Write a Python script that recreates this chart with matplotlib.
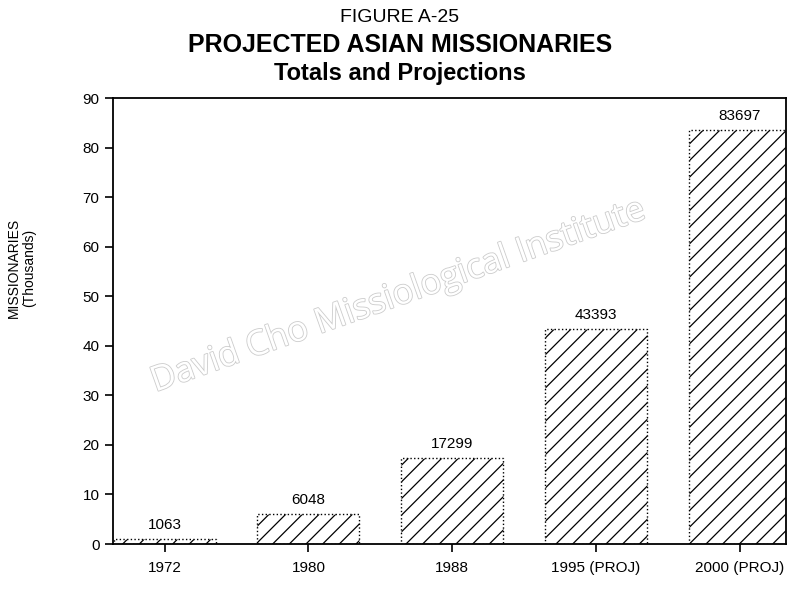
import matplotlib.pyplot as plt
import matplotlib.patheffects as pe

# values (thousands of missionaries)
years = ['1972', '1980', '1988', '1995 (PROJ)', '2000 (PROJ)']
counts = [1063, 6048, 17299, 43393, 83697]
thousands = [c / 1000 for c in counts]
yticks = [0, 10, 20, 30, 40, 50, 60, 70, 80, 90]

plt.rcParams['font.family'] = ['Liberation Sans', 'DejaVu Sans']
plt.rcParams['hatch.linewidth'] = 0.9

fig = plt.figure(figsize=(8, 5.89), dpi=100)
ax = fig.add_axes([0.141, 0.0764, 0.8415, 0.7564])

x = range(len(years))
bars = ax.bar(x, thousands, width=0.71, color='white', edgecolor='black',
              hatch='//', linewidth=1.0, linestyle=':')

for i, b in enumerate(bars):
    ax.annotate(str(counts[i]), (b.get_x() + b.get_width() / 2, b.get_height()),
                xytext=(0, 5), textcoords='offset points', ha='center', va='bottom',
                fontsize=11)

ax.set_xlim(-0.36, 4.32)
ax.set_ylim(0, 90)
ax.set_yticks(yticks)
ax.set_xticks(list(x))
ax.set_xticklabels(years)
ax.tick_params(axis='both', labelsize=11, direction='out', length=6, width=1.2, colors='black')
ax.tick_params(axis='x', pad=6)
for s in ax.spines.values():
    s.set_linewidth(1.3)

fig.text(0.027, 0.545, 'MISSIONARIES\n(Thousands)', rotation=90, ha='center', va='center',
         fontsize=10, linespacing=1.1)

fig.text(0.5, 0.971, 'FIGURE A-25', ha='center', va='center', fontsize=14)
fig.text(0.5, 0.923, 'PROJECTED ASIAN MISSIONARIES', ha='center', va='center',
         fontsize=18, fontweight='bold')
fig.text(0.5, 0.875, 'Totals and Projections', ha='center', va='center',
         fontsize=17, fontweight='bold')

# watermark
wm = fig.text(0.498, 0.497, 'David Cho Missiological Institute', ha='center', va='center',
              rotation=19.5, fontsize=25, color='white', family=['Open Sans', 'DejaVu Sans'])
wm.set_path_effects([pe.Stroke(linewidth=1.2, foreground='#cccccc'), pe.Normal()])

fig.savefig('out.png', dpi=100)
